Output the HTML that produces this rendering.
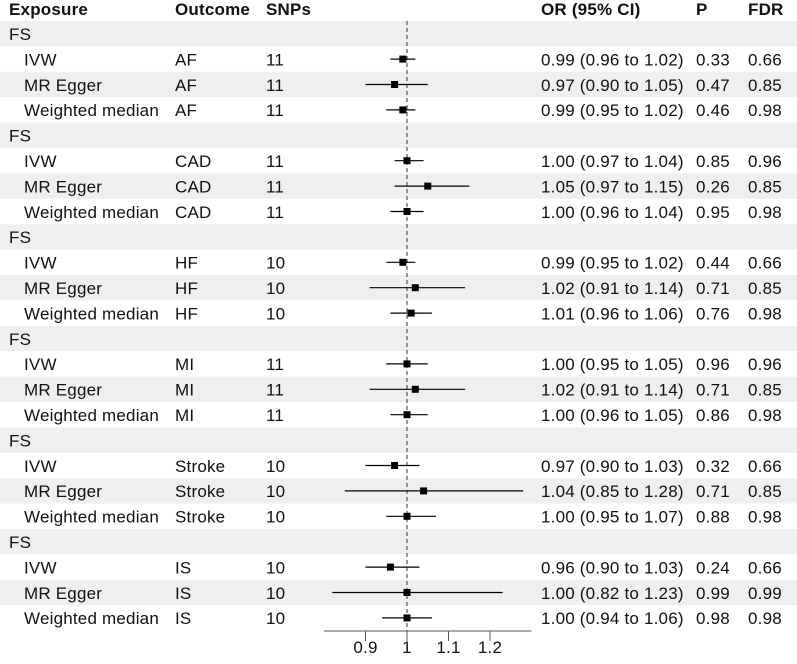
<!DOCTYPE html>
<html><head><meta charset="utf-8"><style>
body{margin:0;background:#fff;}
svg text{font-family:"Liberation Sans",Arial,sans-serif;font-size:17px;letter-spacing:0.2px;fill:#111;}
</style></head><body>
<svg id="c" width="797" height="659"></svg>
<script>
const exposures=["FS","FS","FS","FS","FS","FS"];
const outcomes=["AF","CAD","HF","MI","Stroke","IS"];
const snps=[11,11,10,11,10,10];
const methods=["IVW","MR Egger","Weighted median"];
const orVals=[[0.99,0.97,0.99],[1.00,1.05,1.00],[0.99,1.02,1.01],[1.00,1.02,1.00],[0.97,1.04,1.00],[0.96,1.00,1.00]];
const loVals=[[0.96,0.90,0.95],[0.97,0.97,0.96],[0.95,0.91,0.96],[0.95,0.91,0.96],[0.90,0.85,0.95],[0.90,0.82,0.94]];
const hiVals=[[1.02,1.05,1.02],[1.04,1.15,1.04],[1.02,1.14,1.06],[1.05,1.14,1.05],[1.03,1.28,1.07],[1.03,1.23,1.06]];
const pVals=[["0.33","0.47","0.46"],["0.85","0.26","0.95"],["0.44","0.71","0.76"],["0.96","0.71","0.86"],["0.32","0.71","0.88"],["0.24","0.99","0.98"]];
const fdrVals=[["0.66","0.85","0.98"],["0.96","0.85","0.98"],["0.66","0.85","0.98"],["0.96","0.85","0.98"],["0.66","0.85","0.98"],["0.66","0.99","0.98"]];
const ticks=[0.9,1,1.1,1.2];
const tickLabels=["0.9","1","1.1","1.2"];

const NS="http://www.w3.org/2000/svg";
const svg=document.getElementById('c');
const x=v=>407+(v-1)*415;
const top0=21,rh=25.4;
const rowY=i=>top0+rh*i;
function el(t,a,parent){const e=document.createElementNS(NS,t);for(const k in a)e.setAttribute(k,a[k]);(parent||svg).appendChild(e);return e;}
function txt(s,xx,y,bold,name){const t=el('text',{x:xx,y:y});t.textContent=s;if(bold)t.setAttribute('font-weight','bold');


return t;}
const nRows=exposures.length*4;
for(let i=0;i<nRows;i++){if(i%2===0){const r=el('rect',{x:0,y:rowY(i),width:797,height:rh,fill:'#eef0ee'});

}}
const hy=15;
txt("Exposure",9,hy,true,'header-exposure');
txt("Outcome",175,hy,true,'header-outcome');
txt("SNPs",266,hy,true,'header-snps');
txt("OR (95% CI)",541,hy,true,'header-or');
txt("P",696,hy,true,'header-p');
txt("FDR",748,hy,true,'header-fdr');
const bottom=631;
const ref=el('line',{x1:x(1),x2:x(1),y1:top0,y2:bottom,stroke:'#333','stroke-width':1,'stroke-dasharray':'4,3'});


const fmt=v=>v.toFixed(2);
for(let g=0;g<exposures.length;g++){
  const base=g*4;
  txt(exposures[g],9,rowY(base)+19,false,'group-label');
  for(let m=0;m<3;m++){
    const r=base+1+m, cy=rowY(r)+rh/2, ty=rowY(r)+19;
    txt(methods[m],24,ty,false,'method-label');
    txt(outcomes[g],175,ty,false,'outcome-label');
    txt(String(snps[g]),266,ty,false,'snps-value');
    txt(fmt(orVals[g][m])+" ("+fmt(loVals[g][m])+" to "+fmt(hiVals[g][m])+")",541,ty,false,'or-ci-text');
    txt(pVals[g][m],696,ty,false,'p-value');
    txt(fdrVals[g][m],748,ty,false,'fdr-value');
    const ln=el('line',{x1:x(loVals[g][m]),x2:x(hiVals[g][m]),y1:cy,y2:cy,stroke:'#000','stroke-width':1.2});
    
    
    const sq=el('rect',{x:x(orVals[g][m])-3.5,y:cy-3.5,width:7,height:7,fill:'#000'});
    
    
  }
}
const ax=el('line',{x1:x(0.8),x2:x(1.3),y1:bottom,y2:bottom,stroke:'#555','stroke-width':1});


ticks.forEach((t,i)=>{
  const tk=el('line',{x1:x(t),x2:x(t),y1:bottom,y2:bottom+10,stroke:'#555','stroke-width':1});
  
  
  const lb=txt(tickLabels[i],x(t),653,false,'x-tick-label');
  lb.setAttribute('text-anchor','middle');
});
</script>
</body></html>
